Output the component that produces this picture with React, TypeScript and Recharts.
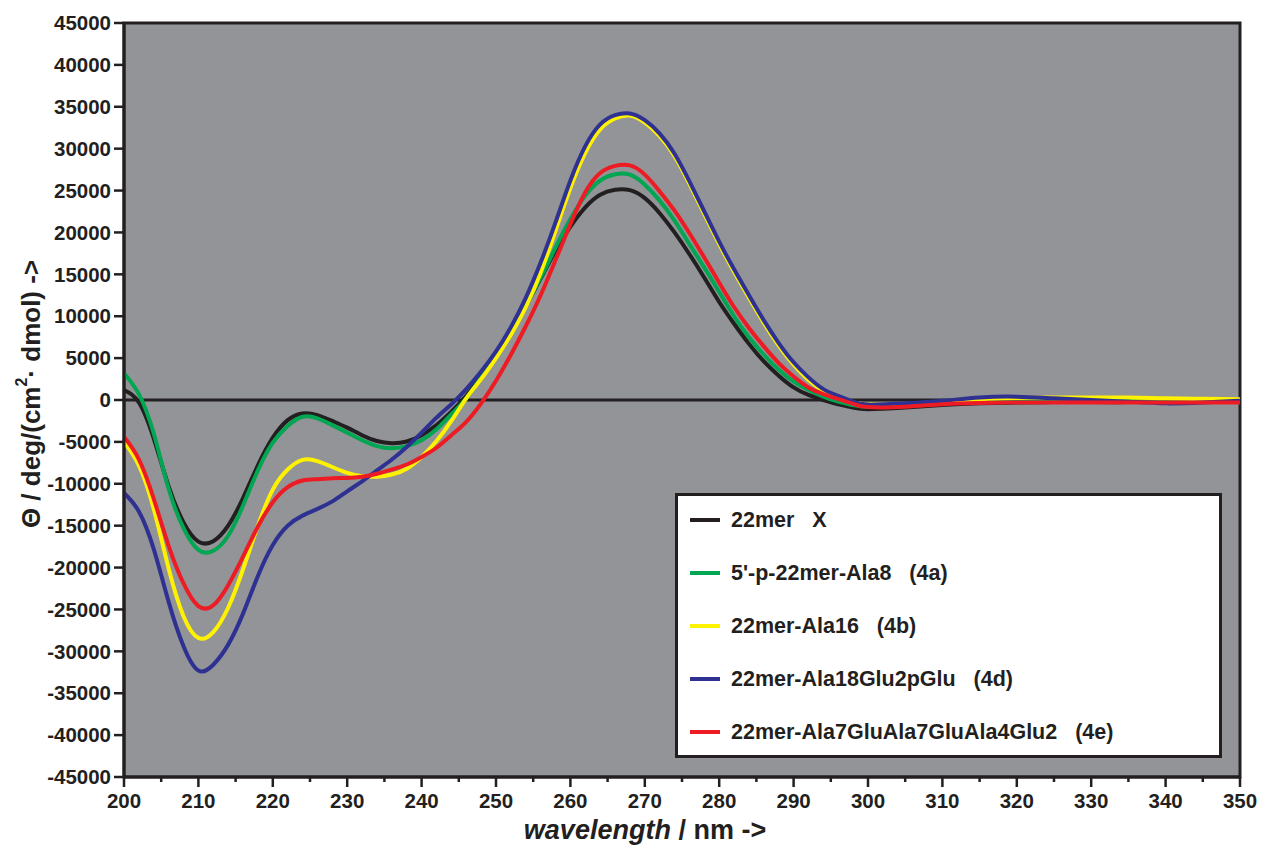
import React from 'react';
import {
  LineChart,
  Line,
  XAxis,
  YAxis,
  CartesianGrid,
  ReferenceLine,
  ReferenceArea,
  Legend,
  Label,
} from 'recharts';

const FONT = '"Liberation Sans", Arial, Helvetica, sans-serif';
const INK = '#231f20';

// wavelength grid (nm)
const wavelengths = [
  200, 202, 204, 206, 208, 210, 212, 214, 216, 218, 220, 222, 224, 226, 228, 230, 232, 234, 236, 238,
  240, 242, 244, 246, 248, 250, 252, 254, 256, 258, 260, 262, 264, 266, 268, 270, 272, 274, 276, 278,
  280, 282, 284, 286, 288, 290, 292, 294, 296, 298, 300, 305, 310, 315, 320, 325, 330, 335, 340, 345,
  350,
];

const mer22X = [
  1200, -300, -4600, -10300, -14600, -16900, -16850, -15000, -11700, -7800, -4500, -2400, -1600, -1800, -2500, -3300, -4200, -4900, -5150, -4950,
  -4200, -3000, -1400, 500, 2800, 5200, 8000, 11200, 14500, 17800, 20700, 23000, 24500, 25100, 25050, 24100, 22300, 20000, 17400, 14600,
  11700, 9100, 6700, 4600, 2900, 1500, 600, 0, -500, -900, -1100, -900, -600, -400, -300, -250, -250, -250, -200, -200,
  -200,
];

const ala8 = [
  3200, 700, -4000, -10600, -15300, -17900, -18000, -16200, -12600, -8400, -5100, -3100, -2000, -2200, -3000, -3900, -4800, -5500, -5750, -5500,
  -4800, -3500, -1700, 200, 2700, 5200, 8100, 11300, 14600, 18200, 21600, 24400, 26200, 26950, 26900, 25700, 23800, 21400, 18600, 15800,
  12900, 10000, 7500, 5400, 3600, 2200, 1200, 400, -200, -600, -800, -600, -400, -200, -100, -50, 0, 0, 0, 0,
  0,
];

const ala16 = [
  -5000, -7800, -13000, -20100, -25800, -28400, -27700, -24800, -20200, -15000, -10700, -8300, -7150, -7300, -8000, -8700, -9100, -9150, -8900, -8200,
  -6800, -4900, -2500, 200, 2500, 5000, 7800, 11100, 15200, 20200, 25300, 29500, 32300, 33600, 33950, 33100, 31500, 29100, 25800, 22200,
  18600, 15300, 12200, 9200, 6500, 4200, 2400, 1100, 300, -300, -500, -500, -200, 100, 250, 300, 300, 300, 200, 150,
  100,
];

const ala18Glu2pGlu = [
  -11100, -13300, -17800, -24100, -29400, -32300, -31600, -29200, -25500, -21000, -17300, -15000, -13800, -13000, -12100, -10900, -9700, -8400, -7100, -5600,
  -3900, -2100, -500, 1300, 3400, 5800, 8700, 12200, 16400, 21200, 26200, 30300, 32900, 34000, 34200, 33400, 31800, 29400, 26100, 22500,
  18900, 15600, 12500, 9500, 6800, 4500, 2700, 1300, 500, -200, -550, -400, -100, 300, 400, 200, 0, -200, -400, -300,
  -100,
];

const ala7GluAla7GluAla4Glu2 = [
  -4400, -7100, -11800, -17400, -21900, -24600, -24500, -22100, -18700, -15100, -12200, -10400, -9600, -9450, -9350, -9300, -9150, -8800, -8300, -7700,
  -6800, -5700, -4200, -2600, -400, 2300, 5400, 8800, 12500, 16700, 21000, 24800, 27100, 27950, 28000, 26900, 24900, 22600, 19900, 17000,
  14000, 11100, 8600, 6400, 4400, 2800, 1500, 700, 100, -450, -850, -800, -500, -350, -300, -300, -300, -300, -300, -300,
  -300,
];

const seriesDefs = [
  { key: 'mer22X', label: '22mer   X', color: INK, values: mer22X },
  { key: 'ala8', label: "5'-p-22mer-Ala8   (4a)", color: '#00a651', values: ala8 },
  { key: 'ala16', label: '22mer-Ala16   (4b)', color: '#fff200', values: ala16 },
  { key: 'ala18', label: '22mer-Ala18Glu2pGlu   (4d)', color: '#2e3192', values: ala18Glu2pGlu },
  { key: 'ala7', label: '22mer-Ala7GluAla7GluAla4Glu2   (4e)', color: '#ed1c24', values: ala7GluAla7GluAla4Glu2 },
];

const xTicks = [200, 205, 210, 215, 220, 225, 230, 235, 240, 245, 250, 255, 260, 265, 270, 275, 280, 285, 290, 295, 300, 305, 310, 315, 320, 325, 330, 335, 340, 345, 350];
const yTicks = [-45000, -40000, -35000, -30000, -25000, -20000, -15000, -10000, -5000, 0, 5000, 10000, 15000, 20000, 25000, 30000, 35000, 40000, 45000];

const data = wavelengths.map((w, i) => {
  const row: Record<string, number> = { w };
  seriesDefs.forEach((s) => {
    row[s.key] = s.values[i];
  });
  return row;
});

function XTick(props: any) {
  const { x, y, payload } = props;
  const v = payload.value;
  const major = v % 10 === 0;
  return (
    <g>
      <line x1={x} x2={x} y1={y} y2={y + (major ? 10 : 5)} stroke={INK} strokeWidth={2.5} />
      {major && (
        <text x={x} y={y + 16} dy="0.71em" textAnchor="middle" fill={INK} fontSize={20.5} fontWeight="bold" fontFamily={FONT}>
          {v}
        </text>
      )}
    </g>
  );
}

function renderLegend() {
  const centers = [24, 77, 130, 183, 236];
  return (
    <div
      style={{
        width: '100%',
        height: '100%',
        boxSizing: 'border-box',
        border: `3px solid ${INK}`,
        background: '#ffffff',
        position: 'relative',
        fontFamily: FONT,
        fontWeight: 'bold',
        fontSize: 21.5,
        color: INK,
      }}
    >
      {seriesDefs.map((s, i) => (
        <div
          key={s.key}
          style={{
            position: 'absolute',
            left: 12,
            top: centers[i] - 14,
            height: 28,
            display: 'flex',
            alignItems: 'center',
            whiteSpace: 'pre',
          }}
        >
          <div style={{ width: 30, height: 4, background: s.color, marginRight: 11 }} />
          <span>{s.label}</span>
        </div>
      ))}
    </div>
  );
}

export default function App() {
  return (
    <div style={{ position: 'absolute', left: 0, top: 0, width: 1263, height: 848, background: '#ffffff' }}>
      <LineChart width={1263} height={848} data={data} margin={{ top: 23, right: 23, bottom: 0, left: 0 }}>
        <CartesianGrid fill="#929497" stroke="none" horizontal={false} vertical={false} />
        <XAxis
          dataKey="w"
          type="number"
          domain={[200, 350]}
          ticks={xTicks}
          interval={0}
          height={71}
          tickSize={0}
          tickMargin={0}
          tickLine={false}
          tick={<XTick />}
          axisLine={{ stroke: INK, strokeWidth: 3 }}
          allowDataOverflow
        >
          <Label
            content={() => (
              <text x={645} y={830} textAnchor="middle" dominantBaseline="central" fill={INK} fontSize={27} fontWeight="bold" fontFamily={FONT}>
                <tspan fontStyle="italic">wavelength</tspan>
                <tspan>{' / nm ->'}</tspan>
              </text>
            )}
          />
        </XAxis>
        <YAxis
          type="number"
          domain={[-45000, 45000]}
          ticks={yTicks}
          interval={0}
          width={124}
          tickSize={10}
          tickMargin={3}
          tickLine={{ stroke: INK, strokeWidth: 2.5 }}
          axisLine={{ stroke: INK, strokeWidth: 3 }}
          tick={{ fill: INK, fontSize: 20.5, fontWeight: 'bold', fontFamily: FONT }}
          allowDataOverflow
        >
          <Label
            content={() => (
              <text
                transform="translate(31,394) rotate(-90)"
                textAnchor="middle"
                dominantBaseline="central"
                fill={INK}
                fontSize={26}
                fontWeight="bold"
                fontFamily={FONT}
              >
                <tspan>{'Θ / deg/(cm'}</tspan>
                <tspan dy={-10} fontSize={16}>2</tspan>
                <tspan dy={10}>{'· dmol) ->'}</tspan>
              </text>
            )}
          />
        </YAxis>
        <ReferenceLine y={0} stroke={INK} strokeWidth={3} />
        {seriesDefs.map((s) => (
          <Line
            key={s.key}
            type="natural"
            dataKey={s.key}
            stroke={s.color}
            strokeWidth={4}
            dot={false}
            activeDot={false}
            isAnimationActive={false}
          />
        ))}
        <ReferenceArea x1={200} x2={350} y1={-45000} y2={45000} fill="none" fillOpacity={0} stroke={INK} strokeWidth={3} />
        <Legend
          layout="vertical"
          align="center"
          verticalAlign="middle"
          wrapperStyle={{ left: 675, top: 493, width: 547, height: 265 }}
          content={renderLegend}
        />
      </LineChart>
    </div>
  );
}
